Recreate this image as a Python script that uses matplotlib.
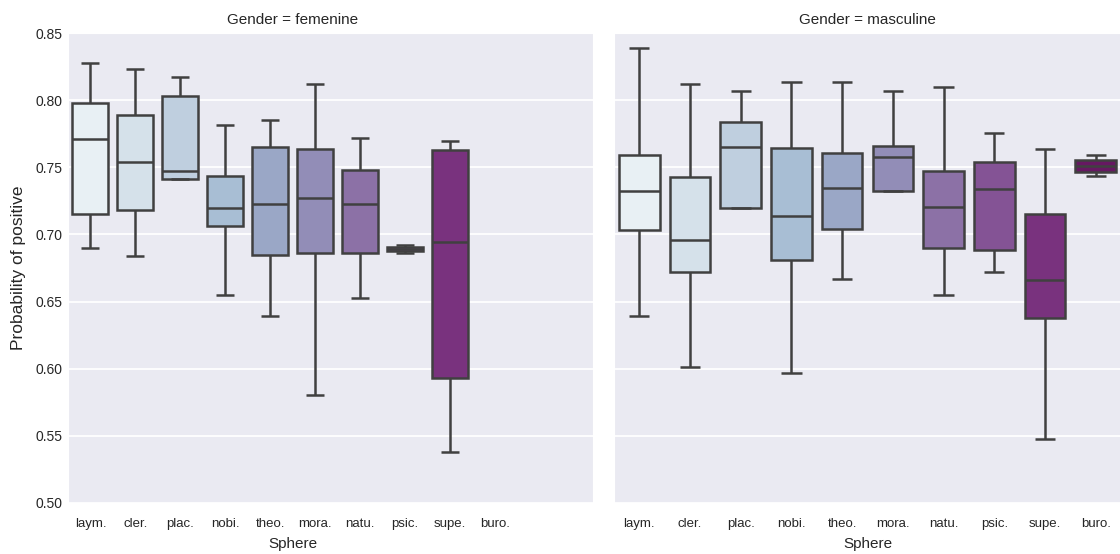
import numpy as np
import matplotlib
matplotlib.use("Agg")
import matplotlib.pyplot as plt
import seaborn as sns

spheres = ["laym.", "cler.", "plac.", "nobi.", "theo.", "mora.", "natu.", "psic.", "supe.", "buro."]

# five-number summaries per sphere (whislo, q1, median, q3, whishi); None = no data
fem_low = [0.690, 0.684, 0.741, 0.655, 0.639, 0.580, 0.653, 0.6865, 0.538, None]
fem_q1 = [0.715, 0.7185, 0.741, 0.706, 0.685, 0.686, 0.686, 0.688, 0.593, None]
fem_med = [0.771, 0.754, 0.747, 0.7195, 0.723, 0.727, 0.723, 0.6895, 0.6945, None]
fem_q3 = [0.798, 0.789, 0.803, 0.7435, 0.765, 0.764, 0.748, 0.691, 0.763, None]
fem_high = [0.828, 0.8235, 0.8175, 0.7815, 0.785, 0.8125, 0.772, 0.6925, 0.7695, None]

mas_low = [0.6395, 0.601, 0.7195, 0.5965, 0.667, 0.7325, 0.655, 0.672, 0.5475, 0.7435]
mas_q1 = [0.703, 0.672, 0.7195, 0.681, 0.704, 0.7325, 0.690, 0.6885, 0.638, 0.7465]
mas_med = [0.7325, 0.696, 0.765, 0.7135, 0.735, 0.758, 0.7205, 0.734, 0.666, 0.751]
mas_q3 = [0.759, 0.7425, 0.784, 0.7645, 0.761, 0.766, 0.747, 0.754, 0.715, 0.7555]
mas_high = [0.839, 0.8125, 0.807, 0.814, 0.814, 0.807, 0.810, 0.7755, 0.7635, 0.7595]

sns.set_style("darkgrid")
plt.rcParams["font.family"] = ["Liberation Sans", "DejaVu Sans"]
plt.rcParams["text.color"] = "#262626"
plt.rcParams["axes.labelcolor"] = "#262626"

colors = sns.color_palette("BuPu", len(spheres), desat=0.75)
edge = "#404040"


def draw_panel(ax, lows, q1s, meds, q3s, highs, title, xmax):
    stats, pos, cols = [], [], []
    for i, lo in enumerate(lows):
        if lo is None:
            continue
        stats.append(dict(whislo=lo, q1=q1s[i], med=meds[i], q3=q3s[i], whishi=highs[i], fliers=[]))
        pos.append(i)
        cols.append(colors[i])
    lw = 1.8
    art = ax.bxp(stats, positions=pos, widths=0.8, patch_artist=True, showfliers=False,
                 boxprops=dict(edgecolor=edge, linewidth=lw),
                 medianprops=dict(color=edge, linewidth=lw),
                 whiskerprops=dict(color=edge, linewidth=lw, solid_capstyle="butt"),
                 capprops=dict(color=edge, linewidth=lw, solid_capstyle="butt"))
    for patch, c in zip(art["boxes"], cols):
        patch.set_facecolor(c)
    ax.set_xticks(range(len(spheres)))
    ax.set_xticklabels(spheres, fontsize=9.5)
    ax.set_xlim(-0.5, xmax)
    ax.set_ylim(0.5, 0.85)
    ax.set_yticks(np.arange(0.5, 0.851, 0.05))
    ax.xaxis.grid(False)
    ax.yaxis.grid(True, color="white", linewidth=1.3)
    ax.tick_params(axis="x", length=0, pad=11, labelsize=9.5, colors="#262626")
    ax.tick_params(axis="y", length=0, pad=4, labelsize=10, colors="#262626")
    frac = 5.0 / (xmax + 0.5)
    t = ax.set_title(title, fontsize=11, pad=7)
    t.set_x(frac)
    ax.set_xlabel("Sphere", fontsize=11, labelpad=5)
    ax.xaxis.label.set_x(frac)


fig = plt.figure(figsize=(11.2, 5.54), dpi=100)
bottom = (554 - 502.7) / 554
height = (502.7 - 33.3) / 554
ax1 = fig.add_axes([68 / 1120, bottom, 525 / 1120, height])
ax2 = fig.add_axes([614 / 1120, bottom, 507 / 1120, height])

draw_panel(ax1, fem_low, fem_q1, fem_med, fem_q3, fem_high, "Gender = femenine", 11.19)
draw_panel(ax2, mas_low, mas_q1, mas_med, mas_q3, mas_high, "Gender = masculine", 9.5)

ax1.set_yticklabels(["%.2f" % v for v in np.arange(0.5, 0.851, 0.05)])
ax1.set_ylabel("Probability of positive", fontsize=12.5, labelpad=7)
ax2.set_yticklabels([])

fig.savefig("out.png", dpi=100)
